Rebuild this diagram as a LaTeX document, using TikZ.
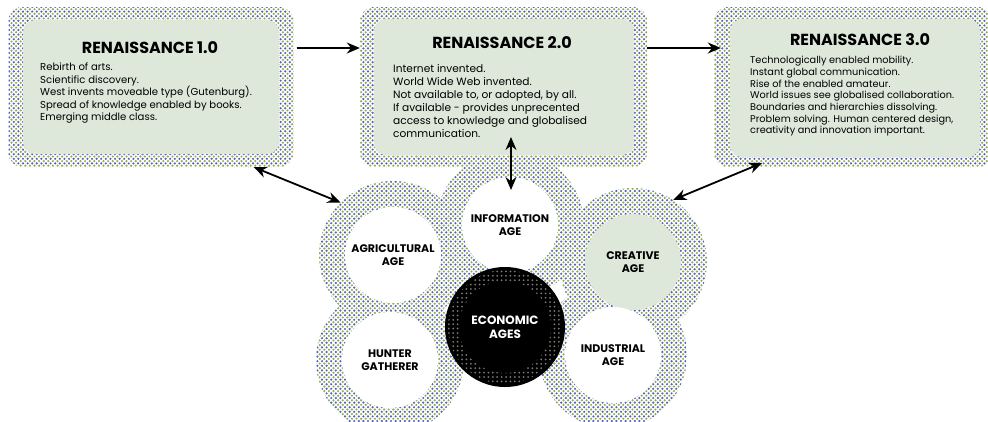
\documentclass[tikz,border=0pt]{standalone}
\usepackage{fontspec}
\setmainfont{Poppins}
\usetikzlibrary{patterns.meta,arrows.meta,calc}
\definecolor{boxfill}{RGB}{221,232,219}
\definecolor{dotblue}{RGB}{85,98,185}
\definecolor{dotgreen}{RGB}{145,170,80}
\definecolor{dotgray}{RGB}{120,125,115}
\tikzset{
  halo/.style={preaction={fill=white},
    preaction={pattern={Dots[radius=1.2pt,distance=4.6pt]},pattern color=dotblue},
    pattern={Dots[radius=1.2pt,distance=4.6pt,xshift=2.3pt,yshift=2.3pt]},pattern color=dotgreen},
  halobox/.style={halo,rounded corners=14pt,draw=none,inner sep=0pt},
  innerbox/.style={fill=boxfill,rounded corners=12pt,draw=none,inner sep=0pt},
  halocirc/.style={halo,circle,draw=none,minimum size=148pt,inner sep=0pt},
  innercirc/.style={circle,draw=none,fill=white,minimum size=96pt,inner sep=0pt,
    font=\bfseries\fontsize{11}{13}\selectfont,align=center},
  title/.style={font=\bfseries\fontsize{16}{18}\selectfont,inner sep=0pt},
  body/.style={align=left,anchor=north west,inner sep=0pt},
  arr/.style={-{Stealth[length=13pt,width=11pt]},line width=1.8pt,black},
  darr/.style={{Stealth[length=13pt,width=11pt]}-{Stealth[length=13pt,width=11pt]},line width=1.8pt,black},
}
\begin{document}
\begin{tikzpicture}[x=1pt,y=-1pt]
\useasboundingbox[fill=white] (0,0) rectangle (988,421);
% halos of circles
\node[halocirc] (agrh) at (393,255) {};
\node[halocirc] (infh) at (510,225) {};
\node[halocirc] (creh) at (633,262) {};
\node[halocirc] (hunh) at (390,360) {};
\node[halocirc] (indh) at (613,355) {};
% inner disks
\node[innercirc] (agr) at (393,255) {AGRICULTURAL\\AGE};
\node[innercirc] (inf) at (510,225) {INFORMATION\\AGE};
\node[innercirc,fill=boxfill] (cre) at (633,262) {CREATIVE\\AGE};
\node[innercirc] (hun) at (390,360) {HUNTER\\GATHERER};
\node[innercirc] (ind) at (613,355) {INDUSTRIAL\\AGE};
% economic
\node[circle,fill=black,minimum size=120pt,inner sep=0pt] (eco) at (505,327) {};
\path[pattern={Dots[radius=1pt,distance=4.4pt]},pattern color=dotgray,even odd rule]
  (eco.center) circle[radius=57] (eco.center) circle[radius=46];
\node[font=\bfseries\fontsize{12}{14}\selectfont,text=white,align=center] (ecot) at (eco.center) {ECONOMIC\\AGES};
% boxes
\node[halobox,minimum width=285pt,minimum height=160pt] (b1) at (151,87) {};
\node[innerbox,minimum width=256pt,minimum height=134pt] (i1) at (151,87) {};
\node[title] (t1) at (150,48) {RENAISSANCE 1.0};
\node[body,font=\fontsize{10.1}{12.4}\selectfont] (x1) at (40,63) {Rebirth of arts.\\Scientific discovery.\\West invents moveable type (Gutenburg).\\Spread of knowledge enabled by books.\\Emerging middle class.};
\node[halobox,minimum width=287pt,minimum height=160pt] (b2) at (503.5,87) {};
\node[innerbox,minimum width=260pt,minimum height=136pt] (i2) at (504,87) {};
\node[title] (t2) at (502,43) {RENAISSANCE 2.0};
\node[body,font=\fontsize{10.6}{13}\selectfont] (x2) at (393,64) {Internet invented.\\World Wide Web invented.\\Not available to, or adopted, by all.\\If available - provides unprecented\\access to knowledge and globalised\\communication.};
\node[halobox,minimum width=278pt,minimum height=160pt] (b3) at (853,87) {};
\node[innerbox,minimum width=250pt,minimum height=138pt] (i3) at (855,88) {};
\node[title] (t3) at (860,40) {RENAISSANCE 3.0};
\node[body,font=\fontsize{9.75}{11.7}\selectfont] (x3) at (750,56) {Technologically enabled mobility.\\Instant global communication.\\Rise of the enabled amateur.\\World issues see globalised collaboration.\\Boundaries and hierarchies dissolving.\\Problem solving. Human centered design,\\creativity and innovation important.};
% connectors
\coordinate (v1) at (511,137);
\coordinate (v2) at (511,190);
\coordinate (c1) at ($(b1.south)!0.72!(b1.south east)$);
\coordinate (c3) at (762,163);
\draw[arr,shorten <=3pt] (b1.east |- t1) -- (b2.west |- t1);
\draw[arr,shorten >=-7pt] (b2.east |- t1) -- (b3.west |- t1);
\draw[darr] (c1) -- (agrh.135);
\draw[darr,line width=1.2pt] (v1) -- (v2);
\draw[darr] (c3) -- (creh.57);
\end{tikzpicture}
\end{document}
